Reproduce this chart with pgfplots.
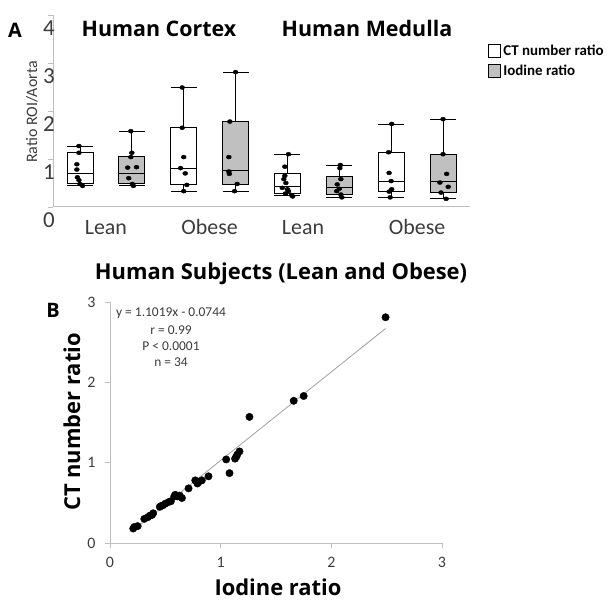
\documentclass[border=0pt]{standalone}
\usepackage{fontspec}
\setmainfont{Carlito}
\newfontfamily\os{Open Sans}
\usepackage{pgfplots}
\pgfplotsset{compat=1.18}
\usepgfplotslibrary{statistics}
\definecolor{axgray}{RGB}{191,191,191}
\definecolor{iodgray}{RGB}{192,192,192}
\definecolor{txtgray}{RGB}{60,60,60}
\pgfplotsset{
  ctbox/.style={boxplot prepared={draw direction=y, box extend=0.5, whisker extend=0.5, #1}, draw=black, fill=white, line width=0.8bp, solid},
  iobox/.style={boxplot prepared={draw direction=y, box extend=0.5, whisker extend=0.5, #1}, draw=black, fill=iodgray, line width=0.8bp, solid},
  dots/.style={only marks, mark=*, mark size=2bp, black, mark options={xscale=1.25}},
}
\begin{document}
\begin{tikzpicture}
\path[use as bounding box] (0,0) rectangle (613bp,600bp);

% ---------------- Panel A ----------------
\begin{axis}[
  at={(53bp,393bp)}, anchor=south west, scale only axis,
  width=417bp, height=192bp,
  xmin=0.48, xmax=8.52, ymin=0, ymax=4,
  axis x line*=bottom, axis y line*=left,
  axis line style={axgray, line width=1bp},
  boxplot/draw direction=y,
  ytick={0,1,2,3,4},
  xtick={1.5,3.5,5.3,7.5},
  xticklabels={Lean,Obese,Lean,Obese},
  x tick style={draw=none},
  y tick style={axgray, line width=0.8bp},
  tick align=outside, major tick length=5bp,
  /pgf/number format/assume math mode=true,
  yticklabel style={anchor=east, inner sep=0pt, yshift=-13bp, xshift=7bp, font=\fontsize{23}{23}\selectfont, text=txtgray},
  xticklabel style={anchor=base, inner sep=0pt, yshift=-23bp, font=\fontsize{22}{22}\selectfont, text=txtgray},
  legend style={at={(1.043,0.86)}, anchor=north west, draw=none, fill=none, inner sep=0pt, row sep=3bp,
    font=\bfseries\fontsize{15}{15}\selectfont, nodes={inner sep=2.5bp}},
  legend cell align=left,
]
\addlegendimage{legend image code/.code={\draw[draw=black,fill=white,line width=0.8bp] (0bp,-6.5bp) rectangle (12bp,6.5bp);}}
\addlegendentry{CT number ratio}
\addlegendimage{legend image code/.code={\draw[draw=black,fill=iodgray,line width=0.8bp] (0bp,-6.5bp) rectangle (12bp,6.5bp);}}
\addlegendentry{Iodine ratio}

% Cortex lean
\addplot[ctbox={draw position=1, lower whisker=0.45, lower quartile=0.49, median=0.70, upper quartile=1.13, upper whisker=1.27}] coordinates {};
\addplot[iobox={draw position=2, lower whisker=0.45, lower quartile=0.49, median=0.70, upper quartile=1.06, upper whisker=1.58}] coordinates {};
% Cortex obese
\addplot[ctbox={draw position=3, lower whisker=0.33, lower quartile=0.47, median=0.80, upper quartile=1.65, upper whisker=2.49}] coordinates {};
\addplot[iobox={draw position=4, lower whisker=0.33, lower quartile=0.48, median=0.77, upper quartile=1.78, upper whisker=2.81}] coordinates {};
% Medulla lean
\addplot[ctbox={draw position=5, lower whisker=0.24, lower quartile=0.28, median=0.42, upper quartile=0.70, upper whisker=1.10}] coordinates {};
\addplot[iobox={draw position=6, lower whisker=0.21, lower quartile=0.27, median=0.40, upper quartile=0.63, upper whisker=0.875}] coordinates {};
% Medulla obese
\addplot[ctbox={draw position=7, lower whisker=0.20, lower quartile=0.32, median=0.54, upper quartile=1.14, upper whisker=1.73}] coordinates {};
\addplot[iobox={draw position=8, lower whisker=0.18, lower quartile=0.30, median=0.53, upper quartile=1.10, upper whisker=1.83}] coordinates {};

% individual points
\addplot[dots] coordinates {(0.98,1.27) (0.98,1.13) (0.94,0.89) (0.94,0.78) (0.95,0.62) (0.98,0.56) (1.00,0.48) (1.05,0.44)};
\addplot[dots] coordinates {(1.98,1.58) (2.00,1.13) (1.98,1.04) (1.92,0.82) (2.09,0.83) (1.94,0.60) (2.01,0.48) (2.03,0.44)};
\addplot[dots] coordinates {(2.97,2.49) (2.97,1.65) (3.00,1.04) (2.94,0.81) (3.03,0.70) (3.06,0.46) (3.00,0.33)};
\addplot[dots] coordinates {(4.00,2.81) (3.89,1.78) (3.87,1.04) (3.87,0.74) (3.88,0.69) (4.03,0.48) (3.98,0.33)};
\addplot[dots] coordinates {(5.02,1.10) (4.95,0.84) (4.95,0.65) (4.93,0.58) (4.97,0.50) (4.90,0.40) (5.00,0.37) (5.02,0.33) (4.96,0.28) (5.08,0.25) (5.10,0.22)};
\addplot[dots] coordinates {(6.02,0.875) (6.01,0.81) (6.03,0.58) (5.96,0.47) (6.00,0.38) (5.95,0.33) (6.03,0.26) (6.05,0.20)};
\addplot[dots] coordinates {(7.01,1.73) (6.95,1.14) (6.96,0.71) (7.00,0.54) (7.01,0.37) (6.96,0.32) (6.98,0.20)};
\addplot[dots] coordinates {(8.00,1.83) (8.00,1.10) (8.07,0.69) (7.94,0.51) (8.10,0.42) (7.96,0.30) (8.06,0.17)};
\end{axis}

\node[anchor=base, font=\os\bfseries\fontsize{20}{20}\selectfont] at (15bp,562bp) {A};
\node[anchor=base, font=\os\bfseries\fontsize{21.5}{21.5}\selectfont] at (159bp,563bp) {Human Cortex};
\node[anchor=base, font=\os\bfseries\fontsize{21.5}{21.5}\selectfont] at (367bp,563bp) {Human Medulla};
\node[anchor=base, rotate=90, font=\fontsize{16}{16}\selectfont, text=txtgray] at (37bp,488bp) {Ratio ROI/Aorta};

% ---------------- Panel B ----------------
\begin{axis}[
  at={(110bp,57bp)}, anchor=south west, scale only axis,
  width=332bp, height=241bp,
  xmin=0, xmax=3, ymin=0, ymax=3,
  axis x line*=bottom, axis y line*=left,
  axis line style={axgray, line width=1bp},
  xtick={0,1,2,3}, ytick={0,1,2,3},
  tick style={axgray, line width=0.8bp},
  tick align=outside, major tick length=5bp,
  /pgf/number format/assume math mode=true,
  ticklabel style={font=\fontsize{16}{16}\selectfont, text=txtgray},
  yticklabel style={xshift=-6bp},
  xticklabel style={yshift=-6bp},
]
\addplot[gray!75, line width=0.8bp] coordinates {(0.20,0.146) (2.49,2.670)};
\addplot[only marks, mark=*, mark size=3.7bp, black] coordinates {
(0.21,0.18) (0.22,0.20) (0.25,0.21) (0.31,0.30) (0.34,0.32) (0.36,0.34) (0.38,0.35) (0.39,0.37)
(0.45,0.45) (0.46,0.46) (0.48,0.47) (0.50,0.49) (0.53,0.51) (0.55,0.52) (0.58,0.58) (0.59,0.60)
(0.61,0.58) (0.63,0.59) (0.65,0.56) (0.71,0.68) (0.77,0.78) (0.79,0.74) (0.80,0.76) (0.83,0.78)
(0.89,0.83) (1.05,1.04) (1.08,0.87) (1.13,1.05) (1.14,1.07) (1.15,1.10) (1.17,1.14) (1.26,1.57)
(1.66,1.77) (1.75,1.83) (2.49,2.81)};
\end{axis}

\node[anchor=base, font=\os\bfseries\fontsize{20}{20}\selectfont] at (53bp,282bp) {B};
\node[anchor=base, font=\os\bfseries\fontsize{22}{22}\selectfont] at (281bp,320bp) {Human Subjects (Lean and Obese)};
\node[anchor=base, rotate=90, font=\os\bfseries\fontsize{22}{22}\selectfont] at (80bp,178bp) {CT number ratio};
\node[anchor=base, font=\os\bfseries\fontsize{22}{22}\selectfont] at (278bp,5bp) {Iodine ratio};
\node[anchor=base, font=\fontsize{13.5}{13.5}\selectfont, text=txtgray] at (171bp,283bp) {y = 1.1019x - 0.0744};
\node[anchor=base, font=\fontsize{13.5}{13.5}\selectfont, text=txtgray] at (171bp,265bp) {r = 0.99};
\node[anchor=base, font=\fontsize{13.5}{13.5}\selectfont, text=txtgray] at (171bp,249bp) {P < 0.0001};
\node[anchor=base, font=\fontsize{13.5}{13.5}\selectfont, text=txtgray] at (171bp,233bp) {n = 34};
\end{tikzpicture}
\end{document}
